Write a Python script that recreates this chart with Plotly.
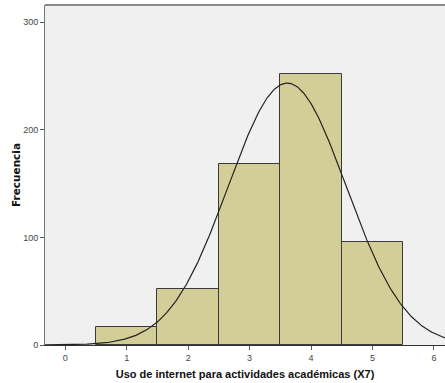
import numpy as np
import plotly.graph_objects as go

# Frequency table for "Uso de internet para actividades académicas (X7)"
categories = [1, 2, 3, 4, 5]
counts = [17, 52, 168, 252, 96]
x_ticks = [0, 1, 2, 3, 4, 5, 6]
y_ticks = [0, 100, 200, 300]

# Normal curve fitted to the grouped data
n = sum(counts)
mean = sum(c * k for c, k in zip(categories, counts)) / n
var = sum(k * (c - mean) ** 2 for c, k in zip(categories, counts)) / (n - 1)
sd = var ** 0.5
xs = np.linspace(-0.33, 6.3, 400)
ys = n * 1.0 / (sd * np.sqrt(2 * np.pi)) * np.exp(-0.5 * ((xs - mean) / sd) ** 2)

fig = go.Figure()
fig.add_trace(go.Bar(
    x=categories, y=counts, width=1.0,
    marker=dict(color="#D3CE98", line=dict(color="#3a3a3a", width=1)),
    hoverinfo="x+y",
))
fig.add_trace(go.Scatter(
    x=xs, y=ys, mode="lines",
    line=dict(color="#222222", width=1.2),
    hoverinfo="skip",
))

fig.update_layout(
    width=445, height=383,
    margin=dict(l=45, r=0, t=5, b=38),
    paper_bgcolor="white",
    plot_bgcolor="#F0F0F0",
    showlegend=False,
    bargap=0,
    font=dict(family="Arial, Liberation Sans, sans-serif", color="#444444", size=9),
)
fig.update_xaxes(
    range=[-0.33, 6.18], tickvals=x_ticks,
    showgrid=False, zeroline=False,
    showline=True, linecolor="#333333", linewidth=1, mirror=False,
    ticks="outside", ticklen=4, tickcolor="#555555",
    title=dict(text="<b>Uso de internet para actividades académicas (X7)</b>",
               font=dict(size=11, color="#111111"), standoff=8),
)
fig.update_yaxes(
    range=[0, 316], tickvals=y_ticks,
    showgrid=False, zeroline=False,
    showline=True, linecolor="#777777", linewidth=1,
    ticks="outside", ticklen=4, tickcolor="#555555",
    title=dict(text="<b>Frecuencia</b>",
               font=dict(family="DejaVu Sans, sans-serif", size=10.5, color="#111111"),
               standoff=0),
)
# top frame line of the plot area
fig.add_shape(type="line", xref="paper", yref="paper", x0=0, x1=1, y0=1, y1=1,
              line=dict(color="#888888", width=2))

fig.write_html("out.html")
